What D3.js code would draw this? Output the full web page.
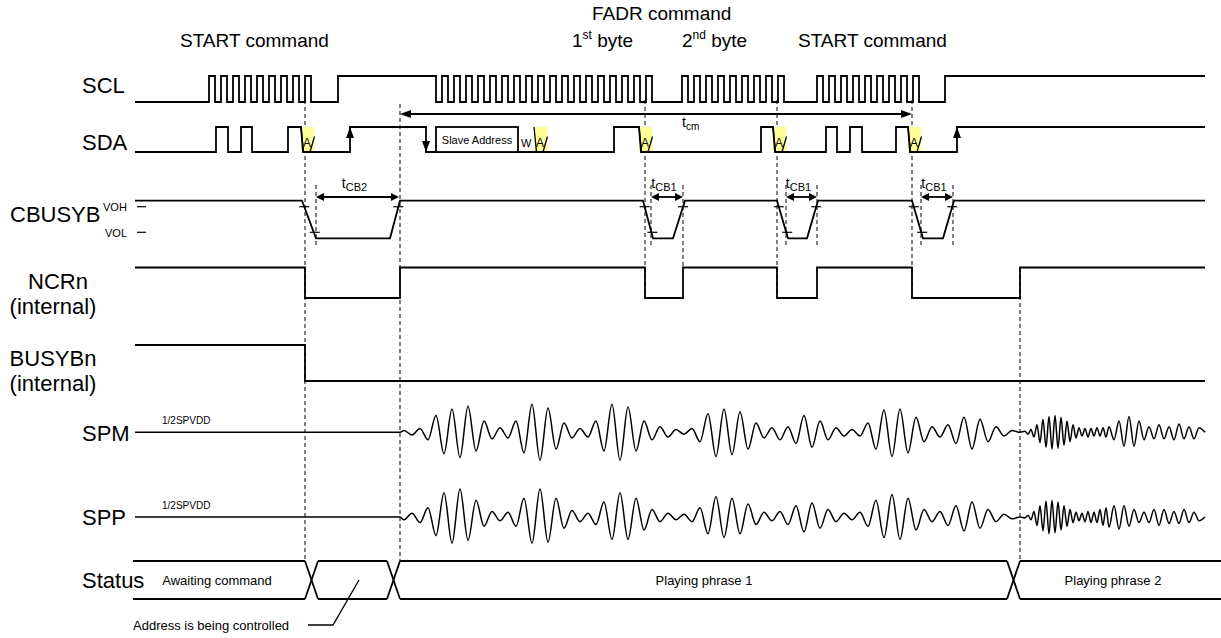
<!DOCTYPE html>
<html>
<head>
<meta charset="utf-8">
<script src="https://cdn.jsdelivr.net/npm/d3@7"></script>
<style>
  body { margin: 0; background: #fff; }
  svg { display: block; font-family: "Liberation Sans", Arial, sans-serif; }
</style>
</head>
<body>
<svg id="chart" width="1221" height="638"></svg>
<script>
// times are in diagram units, 0..107 across the trace area

// SCL: clock bursts [first rise, pulse count] plus the idle levels between them
const sclBursts = [[7.4, 9], [30.7, 18], [54.7, 9], [68.2, 9]];
const sclPeriod = 1.2;
const sclSteps = [[0, 0], [20.3, 1], [30.1, 0], [81.0, 1]];

// SDA edges [time, level]
const sdaSteps = [[0, 0], [8.1, 1], [9.3, 0], [10.6, 1], [11.7, 0], [15.3, 1], [16.6, 0],
  [21.5, 1], [29.1, 0], [47.9, 1], [50.4, 0], [62.6, 1], [63.8, 0], [69.1, 1], [70.2, 0],
  [71.5, 1], [72.7, 0], [76.1, 1], [77.3, 0], [82.2, 1]];
const sdaAcks = [16.6, 39.9, 50.4, 63.8, 77.3];
const ackWidth = 1.35;
const sdaArrows = [[21.5, 'up'], [29.1, 'down'], [82.2, 'up']];
const slaveBox = [30.1, 38.3];

// CBUSYB pulses [fall start, low reached, low end, high reached]
const cbusyPulses = [[16.7, 18.1, 25.5, 26.5], [50.8, 51.8, 53.8, 55.0],
  [64.2, 65.3, 67.2, 68.3], [77.7, 78.8, 80.8, 81.9]];
const vohLevel = 0.84, volLevel = 0.16;
const cbTimings = [[18.1, 26.4, 'CB2'], [51.6, 54.8, 'CB1'], [65.1, 68.2, 'CB1'], [78.6, 81.8, 'CB1']];
const tcmSpan = [26.5, 77.7];
const tcmLabelAt = 54.7;

const ncrSteps = [[0, 1], [17.0, 0], [26.5, 1], [51.0, 0], [54.8, 1], [64.2, 0], [68.2, 1], [77.7, 0], [88.5, 1]];
const busySteps = [[0, 1], [17.0, 0]];

// speaker outputs: successive peak heights (signs alternate)
const wavePhraseStart = 26.5, wavePhraseChange = 88.5;
const spmPhrase1 = [2, 3, 4, 8, 18, 23, 25, 27, 28, 20, 12, 7, 5, 6, 12, 22, 30, 30, 26, 18,
  10, 6, 4, 5, 12, 20, 30, 30, 27, 20, 12, 8, 6, 5, 3, 2, 4, 10, 20, 26,
  25, 24, 22, 18, 10, 6, 5, 8, 6, 12, 18, 16, 12, 8, 5, 4, 3, 4, 10, 18,
  24, 26, 25, 22, 16, 10, 6, 5, 8, 12, 16, 18, 14, 10, 6, 4, 2];
const sppPhrase1 = [3, 4, 6, 10, 20, 26, 28, 30, 25, 18, 10, 6, 4, 5, 10, 20, 28, 30, 27, 20,
  12, 7, 5, 4, 8, 16, 24, 26, 24, 20, 14, 8, 5, 4, 3, 3, 5, 10, 18, 22,
  22, 20, 18, 14, 8, 5, 4, 6, 8, 12, 16, 15, 12, 8, 5, 4, 3, 5, 10, 18,
  22, 24, 24, 20, 14, 8, 5, 6, 9, 12, 15, 16, 12, 8, 5, 3, 2];
const spmPhrase2Fast = [1, 2, 3, 5, 8, 11, 14, 16, 17, 18, 18, 17, 16, 14, 12, 10, 8, 6, 5, 4, 4, 5, 4, 4, 5, 4, 5, 5, 6];
const spmPhrase2Slow = [8, 12, 15, 17, 15, 12, 8, 6, 7, 8, 7, 6, 8, 9, 7, 6, 7, 5];
const sppPhrase2Fast = [1, 2, 3, 6, 9, 12, 15, 17, 18, 18, 17, 16, 14, 12, 10, 8, 6, 5, 4, 4, 5, 6, 6, 5, 6, 8, 9, 10, 11];
const sppPhrase2Slow = [12, 13, 12, 10, 8, 6, 5, 6, 8, 9, 8, 7, 6, 7, 8, 6, 5, 4];
const phrase1Step = 0.8, phrase2FastStep = 0.3, phrase2SlowStep = 0.5;
const phrase1T0 = 26.9, phrase2FastT0 = 89.0, phrase2SlowT0 = 97.9;

// Status bus
const statusCross = [17.0, 25.2, 87.2];
const crossWidth = 1.3;
const statusLabels = [['Awaiting command', 8.2], ['Playing phrase 1', 56.9], ['Playing phrase 2', 97.8]];

// dashed guides [time, span]
const guides = [[17.0, 'full'], [26.5, 'full2'], [51.0, 'ctrl'], [64.2, 'ctrl'], [77.7, 'ctrl'], [88.5, 'late'],
  [18.1, 'cb'], [51.6, 'cb'], [54.8, 'cbn'], [65.1, 'cb'], [68.2, 'cb'], [78.6, 'cb'], [81.8, 'cb']];

const titles = [['START command', 4.5, 47], ['FADR command', 45.7, 20], ['START command', 66.3, 47]];
const byteTitles = [['1', 'st', 43.7], ['2', 'nd', 54.7]];
const signalLabels = [['SCL', 'start', 82, 93], ['SDA', 'start', 82, 150], ['CBUSYB', 'start', 10, 222],
  ['NCRn', 'middle', 58, 289], ['(internal)', 'middle', 53, 314], ['BUSYBn', 'middle', 53, 366],
  ['(internal)', 'middle', 53, 391], ['SPM', 'start', 82, 441], ['SPP', 'start', 82, 525], ['Status', 'start', 82, 588]];

// ---------- layout ----------
const x = d3.scaleLinear().domain([0, 107]).range([135, 1205]);
const rows = { SCL: [102, 76], SDA: [152, 127], CBUSYB: [238.3, 200.7], NCRn: [298, 267.5], BUSYBn: [381, 345] };
const lvl = {};
for (const k in rows) lvl[k] = d3.scaleLinear().domain([0, 1]).range(rows[k]);
const spmY = d3.scaleLinear().domain([-30, 30]).range([460.3, 404.3]);
const sppY = d3.scaleLinear().domain([-30, 30]).range([545, 489]);
const statusTop = 561, statusBot = 599;
const spans = { full: [100, 561], full2: [104, 561], ctrl: [100, 298], late: [268, 561], cb: [185, 245], cbn: [185, 268] };
const ink = '#000';
const lw = 1.8;

const svg = d3.select('#chart');

// guides
svg.append('g').selectAll('line').data(guides).enter().append('line')
  .attr('x1', d => x(d[0])).attr('x2', d => x(d[0]))
  .attr('y1', d => spans[d[1]][0]).attr('y2', d => spans[d[1]][1])
  .attr('stroke', ink).attr('stroke-width', 1).attr('stroke-dasharray', '4,3');

// ack highlights
svg.append('g').selectAll('rect').data(sdaAcks).enter().append('rect')
  .attr('x', d => x(d)).attr('y', lvl.SDA(1))
  .attr('width', d => x(d + ackWidth) - x(d)).attr('height', lvl.SDA(0) - lvl.SDA(1) + 1)
  .attr('fill', '#ffff99');

const g = svg.append('g').attr('fill', 'none').attr('stroke', ink).attr('stroke-width', lw);

function drawSteps(name, steps) {
  const pts = steps.concat([[107, steps[steps.length - 1][1]]]);
  const line = d3.line().x(d => x(d[0])).y(d => lvl[name](d[1])).curve(d3.curveStepAfter);
  g.append('path').attr('d', line(pts));
}

// SCL
const sclEdges = sclSteps.slice();
sclBursts.forEach(([t0, n]) => {
  for (let k = 0; k < n; k++) {
    sclEdges.push([t0 + k * sclPeriod, 1]);
    sclEdges.push([t0 + k * sclPeriod + sclPeriod / 2, 0]);
  }
});
sclEdges.sort((a, b) => a[0] - b[0]);
drawSteps('SCL', sclEdges);

// SDA (ack falls are slanted)
const sdaPts = [];
sdaSteps.forEach((s, i) => {
  if (i === 0) { sdaPts.push(s); return; }
  const prev = sdaSteps[i - 1][1];
  sdaPts.push([s[0], prev]);
  if (sdaAcks.includes(s[0])) sdaPts.push([s[0] + 0.2, s[1]]);
  else sdaPts.push(s);
});
sdaPts.push([107, 1]);
g.append('path').attr('d', d3.line().x(d => x(d[0])).y(d => lvl.SDA(d[1]))(sdaPts));

// ack glyphs
sdaAcks.forEach(t => {
  g.append('line').attr('x1', x(t)).attr('y1', lvl.SDA(1)).attr('x2', x(t + 0.25)).attr('y2', lvl.SDA(0)).attr('stroke-width', 1.3);
  g.append('line').attr('x1', x(t + ackWidth - 0.45)).attr('y1', lvl.SDA(0)).attr('x2', x(t + ackWidth)).attr('y2', lvl.SDA(0.62)).attr('stroke-width', 1.3);
  svg.append('text').attr('x', x(t + 0.6)).attr('y', 147).attr('text-anchor', 'middle')
    .attr('font-size', 12).text('A');
});

// slave address box
g.append('rect').attr('x', x(slaveBox[0])).attr('y', lvl.SDA(1))
  .attr('width', x(slaveBox[1]) - x(slaveBox[0])).attr('height', lvl.SDA(0) - lvl.SDA(1))
  .attr('fill', '#fff');
svg.append('text').attr('x', (x(slaveBox[0]) + x(slaveBox[1])) / 2).attr('y', 144).attr('text-anchor', 'middle')
  .attr('font-size', 11).text('Slave Address');
svg.append('text').attr('x', x(38.6)).attr('y', 147).attr('font-size', 11).text('W');

// arrow heads
function head(px, py, dir, len, half) {
  let p;
  if (dir === 'up') p = [[px, py], [px - half, py + len], [px + half, py + len]];
  else if (dir === 'down') p = [[px, py], [px - half, py - len], [px + half, py - len]];
  else if (dir === 'left') p = [[px, py], [px + len, py - half], [px + len, py + half]];
  else p = [[px, py], [px - len, py - half], [px - len, py + half]];
  svg.append('path').attr('d', 'M' + p.join('L') + 'Z').attr('fill', ink);
}
sdaArrows.forEach(([t, dir]) => {
  if (dir === 'up') head(x(t), lvl.SDA(1), 'up', 11, 4);
  else head(x(t), lvl.SDA(0), 'down', 11, 4);
});

// tcm arrow
const tcmY = 114;
g.append('line').attr('x1', x(tcmSpan[0]) + 4).attr('x2', x(tcmSpan[1]) - 4).attr('y1', tcmY).attr('y2', tcmY);
head(x(tcmSpan[0]), tcmY, 'left', 11, 4);
head(x(tcmSpan[1]), tcmY, 'right', 11, 4);
const tcm = svg.append('text').attr('x', x(tcmLabelAt)).attr('y', 127).attr('font-size', 14);
tcm.append('tspan').text('t');
tcm.append('tspan').attr('font-size', 10).attr('dy', 3).text('cm');

// CBUSYB
const cbPts = [[0, 1]];
cbusyPulses.forEach(p => { cbPts.push([p[0], 1], [p[1], 0], [p[2], 0], [p[3], 1]); });
cbPts.push([107, 1]);
g.append('path').attr('d', d3.line().x(d => x(d[0])).y(d => lvl.CBUSYB(d[1]))(cbPts));
function tick(px, py) {
  g.append('line').attr('x1', px - 5).attr('x2', px + 5).attr('y1', py).attr('y2', py).attr('stroke-width', 1.2);
}
cbusyPulses.forEach(p => {
  tick(x(p[0] + (p[1] - p[0]) * (1 - vohLevel)), lvl.CBUSYB(vohLevel));
  tick(x(p[0] + (p[1] - p[0]) * (1 - volLevel)) + 1, lvl.CBUSYB(volLevel));
  tick(x(p[2] + (p[3] - p[2]) * vohLevel), lvl.CBUSYB(vohLevel));
});
g.append('line').attr('x1', x(0) + 2).attr('x2', x(0) + 11).attr('y1', lvl.CBUSYB(vohLevel)).attr('y2', lvl.CBUSYB(vohLevel)).attr('stroke-width', 1.2);
g.append('line').attr('x1', x(0) + 2).attr('x2', x(0) + 11).attr('y1', lvl.CBUSYB(volLevel)).attr('y2', lvl.CBUSYB(volLevel)).attr('stroke-width', 1.2);
svg.append('text').attr('x', 103).attr('y', 211).attr('font-size', 11).text('VOH');
svg.append('text').attr('x', 105).attr('y', 236.5).attr('font-size', 11).text('VOL');

const cbArrowY = 197;
cbTimings.forEach(([a, b, sub]) => {
  g.append('line').attr('x1', x(a) + 4).attr('x2', x(b) - 4).attr('y1', cbArrowY).attr('y2', cbArrowY);
  head(x(a), cbArrowY, 'left', 8, 4);
  head(x(b), cbArrowY, 'right', 8, 4);
  const t = svg.append('text').attr('x', (x(a) + x(b)) / 2 - 3).attr('y', 188).attr('text-anchor', 'middle').attr('font-size', 14);
  t.append('tspan').text('t');
  t.append('tspan').attr('font-size', 11).attr('dy', 3).text(sub);
});

// NCRn, BUSYBn
drawSteps('NCRn', ncrSteps);
drawSteps('BUSYBn', busySteps);

// speaker waveforms
function wavePts(p1, fast, slow, sign0) {
  const pts = [[0, 0], [wavePhraseStart, 0]];
  let s = sign0;
  p1.forEach((a, i) => { pts.push([phrase1T0 + i * phrase1Step, s * a]); s = -s; });
  pts.push([wavePhraseChange, 0]);
  s = sign0;
  fast.forEach((a, i) => { pts.push([phrase2FastT0 + i * phrase2FastStep, s * a]); s = -s; });
  slow.forEach((a, i) => { pts.push([phrase2SlowT0 + i * phrase2SlowStep, s * a]); s = -s; });
  pts.push([107, 0]);
  return pts;
}
g.append('path').attr('stroke-width', 1.5)
  .attr('d', d3.line().x(d => x(d[0])).y(d => spmY(d[1])).curve(d3.curveMonotoneX)(wavePts(spmPhrase1, spmPhrase2Fast, spmPhrase2Slow, 1)));
g.append('path').attr('stroke-width', 1.5)
  .attr('d', d3.line().x(d => x(d[0])).y(d => sppY(d[1])).curve(d3.curveMonotoneX)(wavePts(sppPhrase1, sppPhrase2Fast, sppPhrase2Slow, -1)));
svg.append('text').attr('x', 162).attr('y', spmY(0) - 8).attr('font-size', 10).text('1/2SPVDD');
svg.append('text').attr('x', 162).attr('y', sppY(0) - 8).attr('font-size', 10).text('1/2SPVDD');

// Status bus
const busEdges = [-0.2].concat(statusCross.flatMap(c => [c, c + crossWidth])).concat([108.6]);
for (let i = 0; i < busEdges.length; i += 2) {
  g.append('line').attr('x1', x(busEdges[i])).attr('x2', x(busEdges[i + 1])).attr('y1', statusTop).attr('y2', statusTop);
  g.append('line').attr('x1', x(busEdges[i])).attr('x2', x(busEdges[i + 1])).attr('y1', statusBot).attr('y2', statusBot);
}
statusCross.forEach(c => {
  g.append('line').attr('x1', x(c)).attr('x2', x(c + crossWidth)).attr('y1', statusTop).attr('y2', statusBot);
  g.append('line').attr('x1', x(c)).attr('x2', x(c + crossWidth)).attr('y1', statusBot).attr('y2', statusTop);
});
statusLabels.forEach(([txt, t]) => {
  svg.append('text').attr('x', x(t)).attr('y', 585).attr('text-anchor', 'middle').attr('font-size', 13).text(txt);
});
g.append('path').attr('stroke-width', 1.3)
  .attr('d', d3.line()([[x(17.3), 625], [x(19.8), 625], [x(22.4), 580]]));
svg.append('text').attr('x', 133).attr('y', 630).attr('font-size', 13).text('Address is being controlled');

// titles
titles.forEach(([txt, t, y]) => {
  svg.append('text').attr('x', x(t)).attr('y', y).attr('font-size', 19).text(txt);
});
byteTitles.forEach(([n, sup, t]) => {
  const tx = svg.append('text').attr('x', x(t)).attr('y', 47).attr('font-size', 19);
  tx.append('tspan').text(n);
  tx.append('tspan').attr('font-size', 12).attr('dy', -8).text(sup);
  tx.append('tspan').attr('dy', 8).text(' byte');
});

// signal names
signalLabels.forEach(([txt, anchor, px, py]) => {
  svg.append('text').attr('x', px).attr('y', py).attr('text-anchor', anchor).attr('font-size', 22).text(txt);
});
</script>
</body>
</html>
